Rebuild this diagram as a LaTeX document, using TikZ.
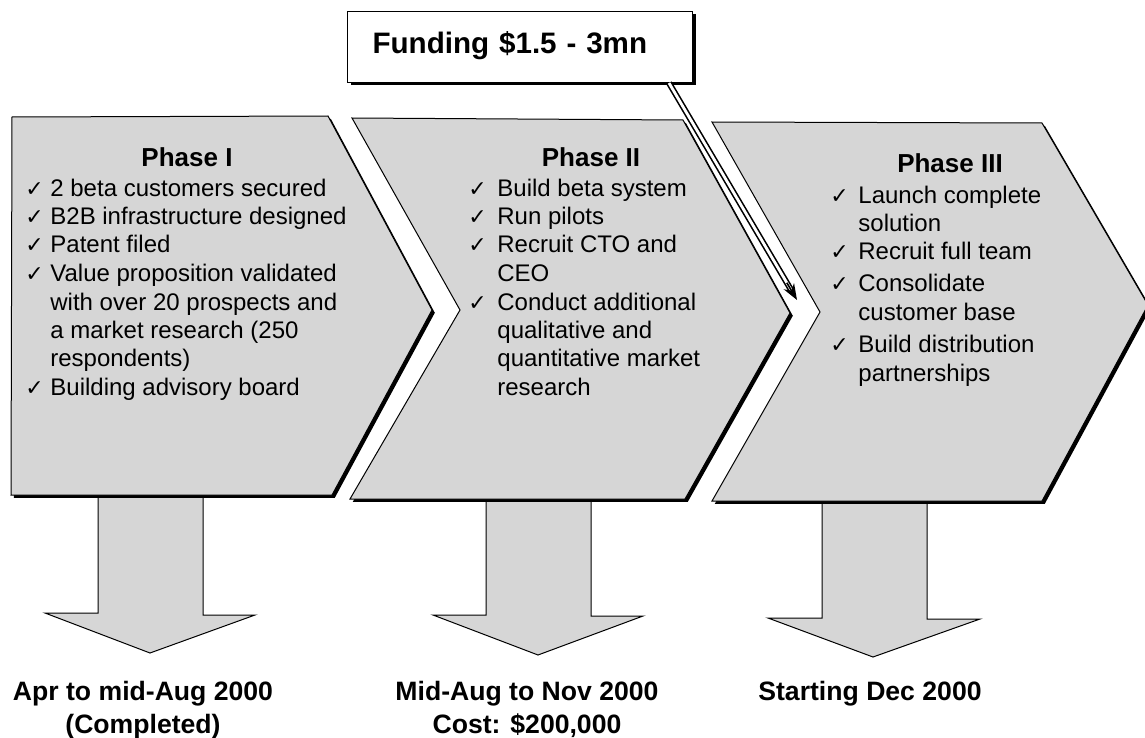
\documentclass[tikz,border=0pt]{standalone}
\usepackage{fontspec}
\setmainfont{Liberation Sans}
\newfontfamily\dejavu{DejaVu Sans}
\usetikzlibrary{arrows.meta,shadows,calc}
\newcommand\ck[1]{\makebox[#1][l]{\dejavu\fontsize{11}{11}\selectfont ✓}}
\begin{document}
\begin{tikzpicture}[x=0.5pt,y=-0.5pt,
  chev/.style={fill=black!16, draw=black, line width=0.5pt,
    preaction={fill=black, transform canvas={xshift=1.4pt,yshift=-1.4pt}}},
  darrow/.style={fill=black!16, draw=black, line width=0.5pt},
  phasetitle/.style={font=\fontsize{13}{15}\selectfont\bfseries, inner sep=0pt, anchor=base},
  lst/.style={font=\fontsize{12}{14.25}\selectfont, inner sep=0pt, anchor=base west},
  lbl/.style={font=\fontsize{13.3}{16.5}\selectfont\bfseries, inner sep=0pt, anchor=base},
  fundbox/.style={draw=black, fill=white, line width=0.5pt,
    general shadow={fill=black, shadow xshift=1.5pt, shadow yshift=-1.5pt},
    font=\fontsize{14.8}{17}\selectfont\bfseries, inner xsep=12.5pt, inner ysep=0pt,
    text width=147.5pt, align=left, text height=21pt, text depth=14.5pt},
  fundline/.style={line width=0.8pt, double distance=1.4pt, shorten >=5pt},
  fundhead/.style={line width=0.8pt, -{Stealth[length=8pt,width=6pt]}}
]
\useasboundingbox (0,0) rectangle (1145,738);

% down arrows
\draw[darrow] (98,490) -- (98,613) -- (45,613) -- (150,653) -- (255,615) -- (203,615) -- (203,490) -- cycle;
\draw[darrow] (486,490) -- (486,615) -- (433,615) -- (538,655) -- (643,616) -- (591,616) -- (591,490) -- cycle;
\draw[darrow] (822,490) -- (822,618) -- (768,618) -- (873,657) -- (980,619) -- (927,619) -- (927,490) -- cycle;

% chevrons
\path[chev] (12,117) -- (328,116) -- (432,310) -- (332,495) -- (11,495) -- cycle;
\path[chev] (352,118) -- (683,120) -- (790,313) -- (685,499) -- (350,499) -- (460,310) -- cycle;
\path[chev] (712,122) -- (1042,123) -- (1148,305) -- (1042,501) -- (712,501) -- (820,312) -- cycle;

% funding box and arrow
\node[fundbox, anchor=north west] (fund) at (347,11) {Funding \$1.5 - 3mn};
\coordinate (fundfrom) at ([xshift=-12pt]fund.south east);
\coordinate (fundtip) at (797,300);
\draw[fundline] (fundfrom) -- (fundtip);
\draw[fundhead] ($(fundtip)!10pt!(fundfrom)$) -- (fundtip);

% phase texts
\node[phasetitle] (t1) at (187,166) {Phase I};
\node[lst] (l1) at (25,196) {\begin{tabular}[t]{@{}l@{}l@{}}
\ck{12.5pt} & 2 beta customers secured\\
\ck{12.5pt} & B2B infrastructure designed\\
\ck{12.5pt} & Patent filed\\
\ck{12.5pt} & Value proposition validated\\
 & with over 20 prospects and\\
 & a market research (250\\
 & respondents)\\
\ck{12.5pt} & Building advisory board
\end{tabular}};

\node[phasetitle] (t2) at (591,166) {Phase II};
\node[lst] (l2) at (468,196) {\begin{tabular}[t]{@{}l@{}l@{}}
\ck{14.5pt} & Build beta system\\
\ck{14.5pt} & Run pilots\\
\ck{14.5pt} & Recruit CTO and\\
 & CEO\\
\ck{14.5pt} & Conduct additional\\
 & qualitative and\\
 & quantitative market\\
 & research
\end{tabular}};

\node[phasetitle] (t3) at (950,172) {Phase III};
\node[lst] (l3) at (830,203) {\begin{tabular}[t]{@{}l@{}l@{}}
\ck{14pt} & Launch complete\\
 & solution\\
\ck{14pt} & Recruit full team\\[1.5pt]
\ck{14pt} & Consolidate\\
 & customer base\\[2pt]
\ck{14pt} & Build distribution\\
 & partnerships
\end{tabular}};

% bottom labels
\node[lbl] (d1) at (143,700) {\begin{tabular}[t]{@{}c@{}}Apr to mid-Aug 2000\\(Completed)\end{tabular}};
\node[lbl] (d2) at (527,700) {\begin{tabular}[t]{@{}c@{}}Mid-Aug to Nov 2000\\Cost: \$200,000\end{tabular}};
\node[lbl] (d3) at (870,700) {Starting Dec 2000};
\end{tikzpicture}
\end{document}
